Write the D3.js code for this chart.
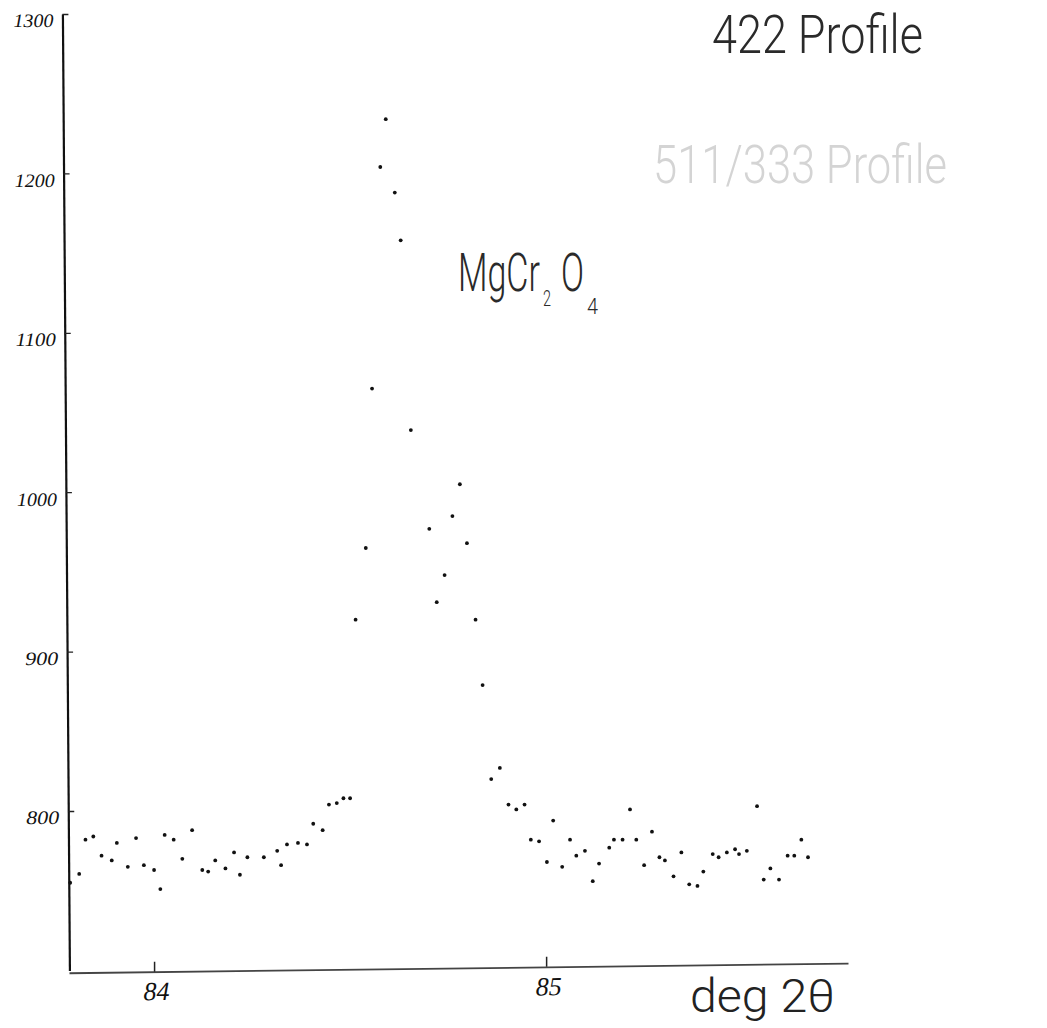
<!DOCTYPE html>
<html>
<head>
<meta charset="utf-8">
<script src="https://cdn.jsdelivr.net/npm/d3@7"></script>
<style>
  html, body { margin: 0; padding: 0; background: #fff; }
  svg { display: block; }
</style>
</head>
<body>
<svg id="chart" width="1047" height="1028"></svg>
<script>
// ---- data ----
const theta = [83.786, 83.809, 83.825, 83.845, 83.866, 83.892, 83.905, 83.933, 83.954, 83.974,
  84.000, 84.016, 84.027, 84.050, 84.072, 84.097, 84.123, 84.138, 84.156, 84.182,
  84.204, 84.219, 84.238, 84.280, 84.314, 84.324, 84.339, 84.367, 84.390, 84.406,
  84.430, 84.446, 84.466, 84.483, 84.500, 84.514, 84.540, 84.556, 84.577, 84.591,
  84.614, 84.629, 84.655, 84.702, 84.721, 84.741, 84.761, 84.780, 84.798, 84.820,
  84.838, 84.860, 84.882, 84.904, 84.924, 84.945, 84.961, 84.982, 85.002, 85.018,
  85.041, 85.061, 85.077, 85.099, 85.119, 85.135, 85.161, 85.173, 85.195, 85.214,
  85.230, 85.250, 85.270, 85.289, 85.303, 85.325, 85.345, 85.365, 85.386, 85.401,
  85.425, 85.440, 85.461, 85.482, 85.492, 85.512, 85.538, 85.555, 85.572, 85.594,
  85.616, 85.633, 85.651, 85.668];
const counts = [755, 760.5, 782, 784, 772, 769, 780, 765, 783, 766,
  763, 751, 785, 782, 770, 788, 763, 762, 769, 764,
  774, 760, 771, 771, 775, 766, 779, 780, 779, 792,
  788, 804, 805, 808, 808, 920, 965, 1065, 1204, 1234,
  1188, 1158, 1039, 977, 931, 948, 985, 1005, 968, 920,
  879, 820, 827, 804, 801, 804, 782, 781, 768, 794,
  765, 782, 772, 775, 756, 767, 777, 782, 782, 801,
  782, 766, 787, 771, 769, 759, 774, 754, 753, 762,
  773, 771, 774, 776, 773, 775, 803, 757, 764, 757,
  772, 772, 782, 771];
const xTicks = [84, 85];
const yTicks = [800, 900, 1000, 1100, 1200, 1300];
const yTickLabels = ["800", "900", "1000", "1100", "1200", "1300"];
const xTickLabels = ["84", "85"];
const xDomain = [83.783, 85.770];
const yDomain = [700, 1300];
const titleText = "422 Profile";
const ghostText = "511/333 Profile";
const xAxisTitle = "deg 2θ";

// ---- drawing ----
const svg = d3.select("#chart");
const x = d3.scaleLinear().domain(xDomain).range([69, 848]);
const y = d3.scaleLinear().domain(yDomain).range([970.4, 14]);

const hand = "'Liberation Serif', 'DejaVu Serif', serif";
const plot = "Roboto, 'Open Sans', 'DejaVu Sans', sans-serif";

// y axis (hand drawn, slightly leaning)
const yAxis = d3.axisLeft(y)
  .tickValues(yTicks)
  .tickFormat((d, i) => yTickLabels[i])
  .tickSize(-6)
  .tickSizeOuter(0)
  .tickPadding(9);
const gy = svg.append("g")
  .attr("transform", "translate(62.3,0) skewX(0.42)")
  .call(yAxis);
gy.select(".domain").attr("stroke", "#111").attr("stroke-width", 2.2);
gy.selectAll(".tick line").attr("stroke", "#222").attr("stroke-width", 1.3);
gy.selectAll(".tick text")
  .attr("font-family", hand)
  .attr("font-style", "italic")
  .attr("font-size", 19)
  .attr("fill", "#111")
  .attr("dy", "0.68em")
  .attr("textLength", (d, i) => yTickLabels[i].length === 4 ? 40 : 33)
  .attr("lengthAdjust", "spacingAndGlyphs");

// x axis (slightly rising to the right)
const xAxis = d3.axisBottom(x)
  .tickValues(xTicks)
  .tickFormat((d, i) => xTickLabels[i])
  .tickSize(-10)
  .tickSizeOuter(0)
  .tickPadding(10);
const gx = svg.append("g")
  .attr("transform", "translate(0,973.6) skewY(-0.71)")
  .call(xAxis);
gx.select(".domain").attr("stroke", "#444").attr("stroke-width", 1.8);
gx.selectAll(".tick line").attr("stroke", "#222").attr("stroke-width", 1.5);
gx.selectAll(".tick text")
  .attr("font-family", hand)
  .attr("font-style", "italic")
  .attr("font-size", 26)
  .attr("fill", "#111")
  .attr("dx", 2);

// data points
svg.append("g")
  .selectAll("circle")
  .data(theta.map((t, i) => ({ t, c: counts[i] })))
  .join("circle")
  .attr("cx", d => x(d.t))
  .attr("cy", d => y(d.c))
  .attr("r", 1.9)
  .attr("fill", "#111");

// condensed plotter-style text: scale horizontally to a target width
function plotText(str, px, py, size, width, fill) {
  const t = svg.append("text")
    .attr("font-family", plot).attr("font-weight", 300)
    .attr("font-size", size).attr("fill", fill)
    .attr("x", 0).attr("y", 0)
    .text(str);
  const w = t.node().getComputedTextLength() || width;
  t.attr("transform", `translate(${px},${py}) scale(${width / w},1)`);
  return t;
}

plotText(titleText, 712, 53, 53, 211, "#2a2a2a");
plotText(ghostText, 653, 183, 53, 294, "#d4d4d4");

// compound label MgCr2O4
plotText("MgCr", 458, 291, 54, 82, "#2a2a2a");
plotText("2", 543, 306, 22, 8, "#2a2a2a");
plotText("O", 561, 291, 54, 23, "#2a2a2a");
plotText("4", 587, 314, 22, 11, "#2a2a2a");

// x axis title
plotText(xAxisTitle, 690, 1012, 47, 145, "#222");
</script>
</body>
</html>
